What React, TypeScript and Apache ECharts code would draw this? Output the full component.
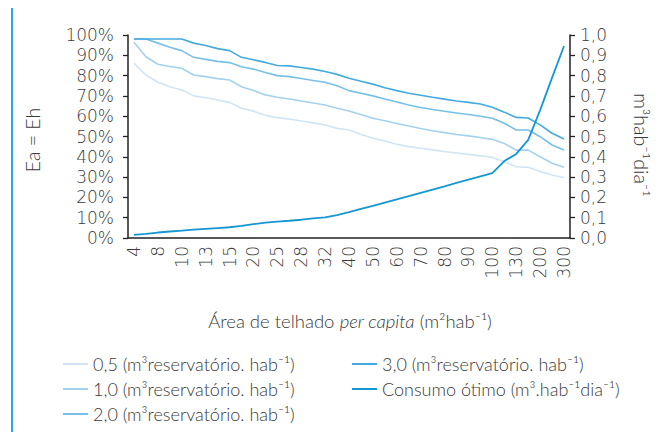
import React, { useEffect, useRef } from "react";
import * as echarts from "echarts";

// Tick labels shown on the roof-area axis (every other category is labelled)
const xLabels = ["4", "8", "10", "13", "15", "20", "25", "28", "32", "40", "50", "60", "70", "80", "90", "100", "130", "200", "300"];

// Efficiency (%) per reservoir volume
const res05 = [86, 80.3, 76.7, 74.5, 72.9, 70, 69.1, 68, 66.8, 63.9, 62.5, 60.5, 59.3, 58.6, 57.6, 56.7, 55.7, 54, 53.2, 51, 49.1, 47.8, 46.2, 45, 44.2, 43.4, 42.6, 41.9, 41.2, 40.5, 39.7, 37.6, 35.1, 34.8, 32.7, 31, 29.7];
const res10 = [96.4, 89.3, 85.6, 84.5, 83.6, 80.3, 79.5, 78.5, 77.8, 74.5, 72.7, 70.5, 69.3, 68.5, 67.5, 66.5, 65.5, 63.9, 62.6, 60.8, 59, 57.8, 56.4, 55.2, 53.9, 52.8, 51.9, 51, 50.3, 49.5, 48.6, 46.6, 43.3, 43.3, 40, 36.8, 34.8];
const res20 = [98, 98, 96, 94, 92.3, 89, 88, 87, 86.4, 84.4, 83.2, 81.5, 80, 79.5, 78.6, 77.6, 76.7, 75, 72.6, 71.3, 70, 68.5, 67, 65.5, 64.3, 63.3, 62.4, 61.6, 60.8, 60, 59, 56.5, 53.2, 53.2, 49.9, 45.8, 43.3];
const res30 = [98, 98, 98, 98, 98, 96, 94.8, 93.3, 92.3, 89, 87.8, 86.5, 85, 84.8, 84, 83.2, 82, 80.6, 78.7, 77.2, 75.8, 74, 72.6, 71.3, 70.3, 69.3, 68.4, 67.5, 66.8, 66, 64.4, 62, 59.4, 59.1, 55.7, 51.6, 48.8];

// Optimal consumption (m³/hab/dia), right axis
const consumo = [0.015, 0.02, 0.027, 0.032, 0.036, 0.041, 0.045, 0.049, 0.053, 0.06, 0.068, 0.076, 0.081, 0.085, 0.09, 0.097, 0.102, 0.113, 0.127, 0.143, 0.158, 0.174, 0.19, 0.206, 0.222, 0.238, 0.254, 0.271, 0.287, 0.303, 0.319, 0.379, 0.414, 0.483, 0.63, 0.79, 0.946];

const seriesNames = [
  "0,5 (m³reservatório. hab⁻¹)",
  "1,0 (m³reservatório. hab⁻¹)",
  "2,0 (m³reservatório. hab⁻¹)",
  "3,0 (m³reservatório. hab⁻¹)",
  "Consumo ótimo (m³.hab⁻¹dia⁻¹)",
];

const colors = ["#cfe5f4", "#a4d2ee", "#78c0e8", "#45aae0", "#1597d4"];

// Categories: labelled values interleaved with unlabelled intermediate steps
const categories: string[] = [];
xLabels.forEach((l, k) => {
  categories.push(l);
  if (k < xLabels.length - 1) categories.push(l + "+");
});

const FONT = "Lato";
const TICK_FONT = "DejaVu Sans";
const TXT = "#3a3a3a";

export default function App() {
  const ref = useRef<HTMLDivElement>(null);

  useEffect(() => {
    if (!ref.current) return;
    const chart = echarts.init(ref.current, null, { renderer: "svg" });

    const values = [res05, res10, res20, res30];
    const series: any[] = values.map((d, i) => ({
      name: seriesNames[i],
      type: "line",
      data: d,
      yAxisIndex: 0,
      symbol: "none",
      lineStyle: { width: 1.6, color: colors[i] },
      itemStyle: { color: colors[i] },
      z: 2 + i,
    }));
    series.push({
      name: seriesNames[4],
      type: "line",
      data: consumo,
      yAxisIndex: 1,
      symbol: "none",
      lineStyle: { width: 1.8, color: colors[4] },
      itemStyle: { color: colors[4] },
      z: 10,
    });

    const legendBase = {
      orient: "vertical",
      icon: "rect",
      itemWidth: 25,
      itemHeight: 2,
      itemGap: 5,
      textStyle: {
        fontFamily: FONT,
        fontWeight: 300,
        fontSize: 18,
        color: TXT,
        lineHeight: 20,
      },
    };

    const tickLabel = {
      fontFamily: TICK_FONT,
      fontWeight: 200,
      fontSize: 17,
      lineHeight: 17,
      color: TXT,
    };

    chart.setOption({
      animation: false,
      backgroundColor: "#ffffff",
      textStyle: { fontFamily: FONT },
      grid: { left: 128, right: 102, top: 35, bottom: 202, containLabel: false },
      xAxis: {
        type: "category",
        data: categories,
        boundaryGap: true,
        axisLine: { lineStyle: { color: "#222", width: 1.5 } },
        axisTick: { interval: 0, length: 5, lineStyle: { color: "#222", width: 1.3 } },
        axisLabel: { ...tickLabel, interval: 1, rotate: 90, margin: 8 },
      },
      yAxis: [
        {
          type: "value",
          min: 0,
          max: 100,
          interval: 10,
          splitLine: { show: false },
          axisLine: { show: true, lineStyle: { color: "#222", width: 1.5 } },
          axisTick: { show: true, length: 5, lineStyle: { color: "#222", width: 1.3 } },
          axisLabel: { ...tickLabel, margin: 14, formatter: "{value}%" },
        },
        {
          type: "value",
          min: 0,
          max: 1,
          interval: 0.1,
          position: "right",
          splitLine: { show: false },
          axisLine: { show: true, lineStyle: { color: "#222", width: 1.5 } },
          axisTick: { show: true, length: 5, lineStyle: { color: "#222", width: 1.3 } },
          axisLabel: { ...tickLabel, margin: 10, formatter: (v: number) => v.toFixed(1).replace(".", ",") },
        },
      ],
      legend: [
        { ...legendBase, left: 58, top: 349, data: seriesNames.slice(0, 3) },
        { ...legendBase, left: 347, top: 349, data: seriesNames.slice(3) },
      ],
      graphic: [
        {
          type: "line",
          shape: { x1: 12, y1: 0, x2: 12, y2: 440 },
          style: { stroke: "#29a9e0", lineWidth: 2 },
        },
        {
          type: "line",
          shape: { x1: 667, y1: 0, x2: 667, y2: 440 },
          style: { stroke: "#29a9e0", lineWidth: 2 },
        },
        {
          type: "text",
          x: 32,
          y: 140,
          rotation: Math.PI / 2,
          style: {
            text: "Ea = Eh",
            fontFamily: FONT,
            fontWeight: 300,
            fontSize: 19.5,
            fill: TXT,
            align: "center",
            verticalAlign: "middle",
          },
        },
        {
          type: "text",
          x: 641,
          y: 145,
          rotation: -Math.PI / 2,
          style: {
            text: "m³hab⁻¹dia⁻¹",
            fontFamily: FONT,
            fontWeight: 300,
            fontSize: 19.5,
            fill: TXT,
            align: "center",
            verticalAlign: "middle",
          },
        },
        {
          type: "text",
          x: 350,
          y: 321,
          style: {
            text: "{n|Área de telhado }{i|per capita}{n| (m²hab⁻¹)}",
            align: "center",
            verticalAlign: "middle",
            rich: {
              n: { fontFamily: FONT, fontWeight: 300, fontSize: 18.5, fill: TXT, color: TXT },
              i: { fontFamily: FONT, fontWeight: 300, fontStyle: "italic", fontSize: 18.5, fill: TXT, color: TXT },
            },
          },
        },
      ],
      series,
    });

    return () => chart.dispose();
  }, []);

  return <div ref={ref} style={{ width: 672, height: 440, margin: -8 }} />;
}
